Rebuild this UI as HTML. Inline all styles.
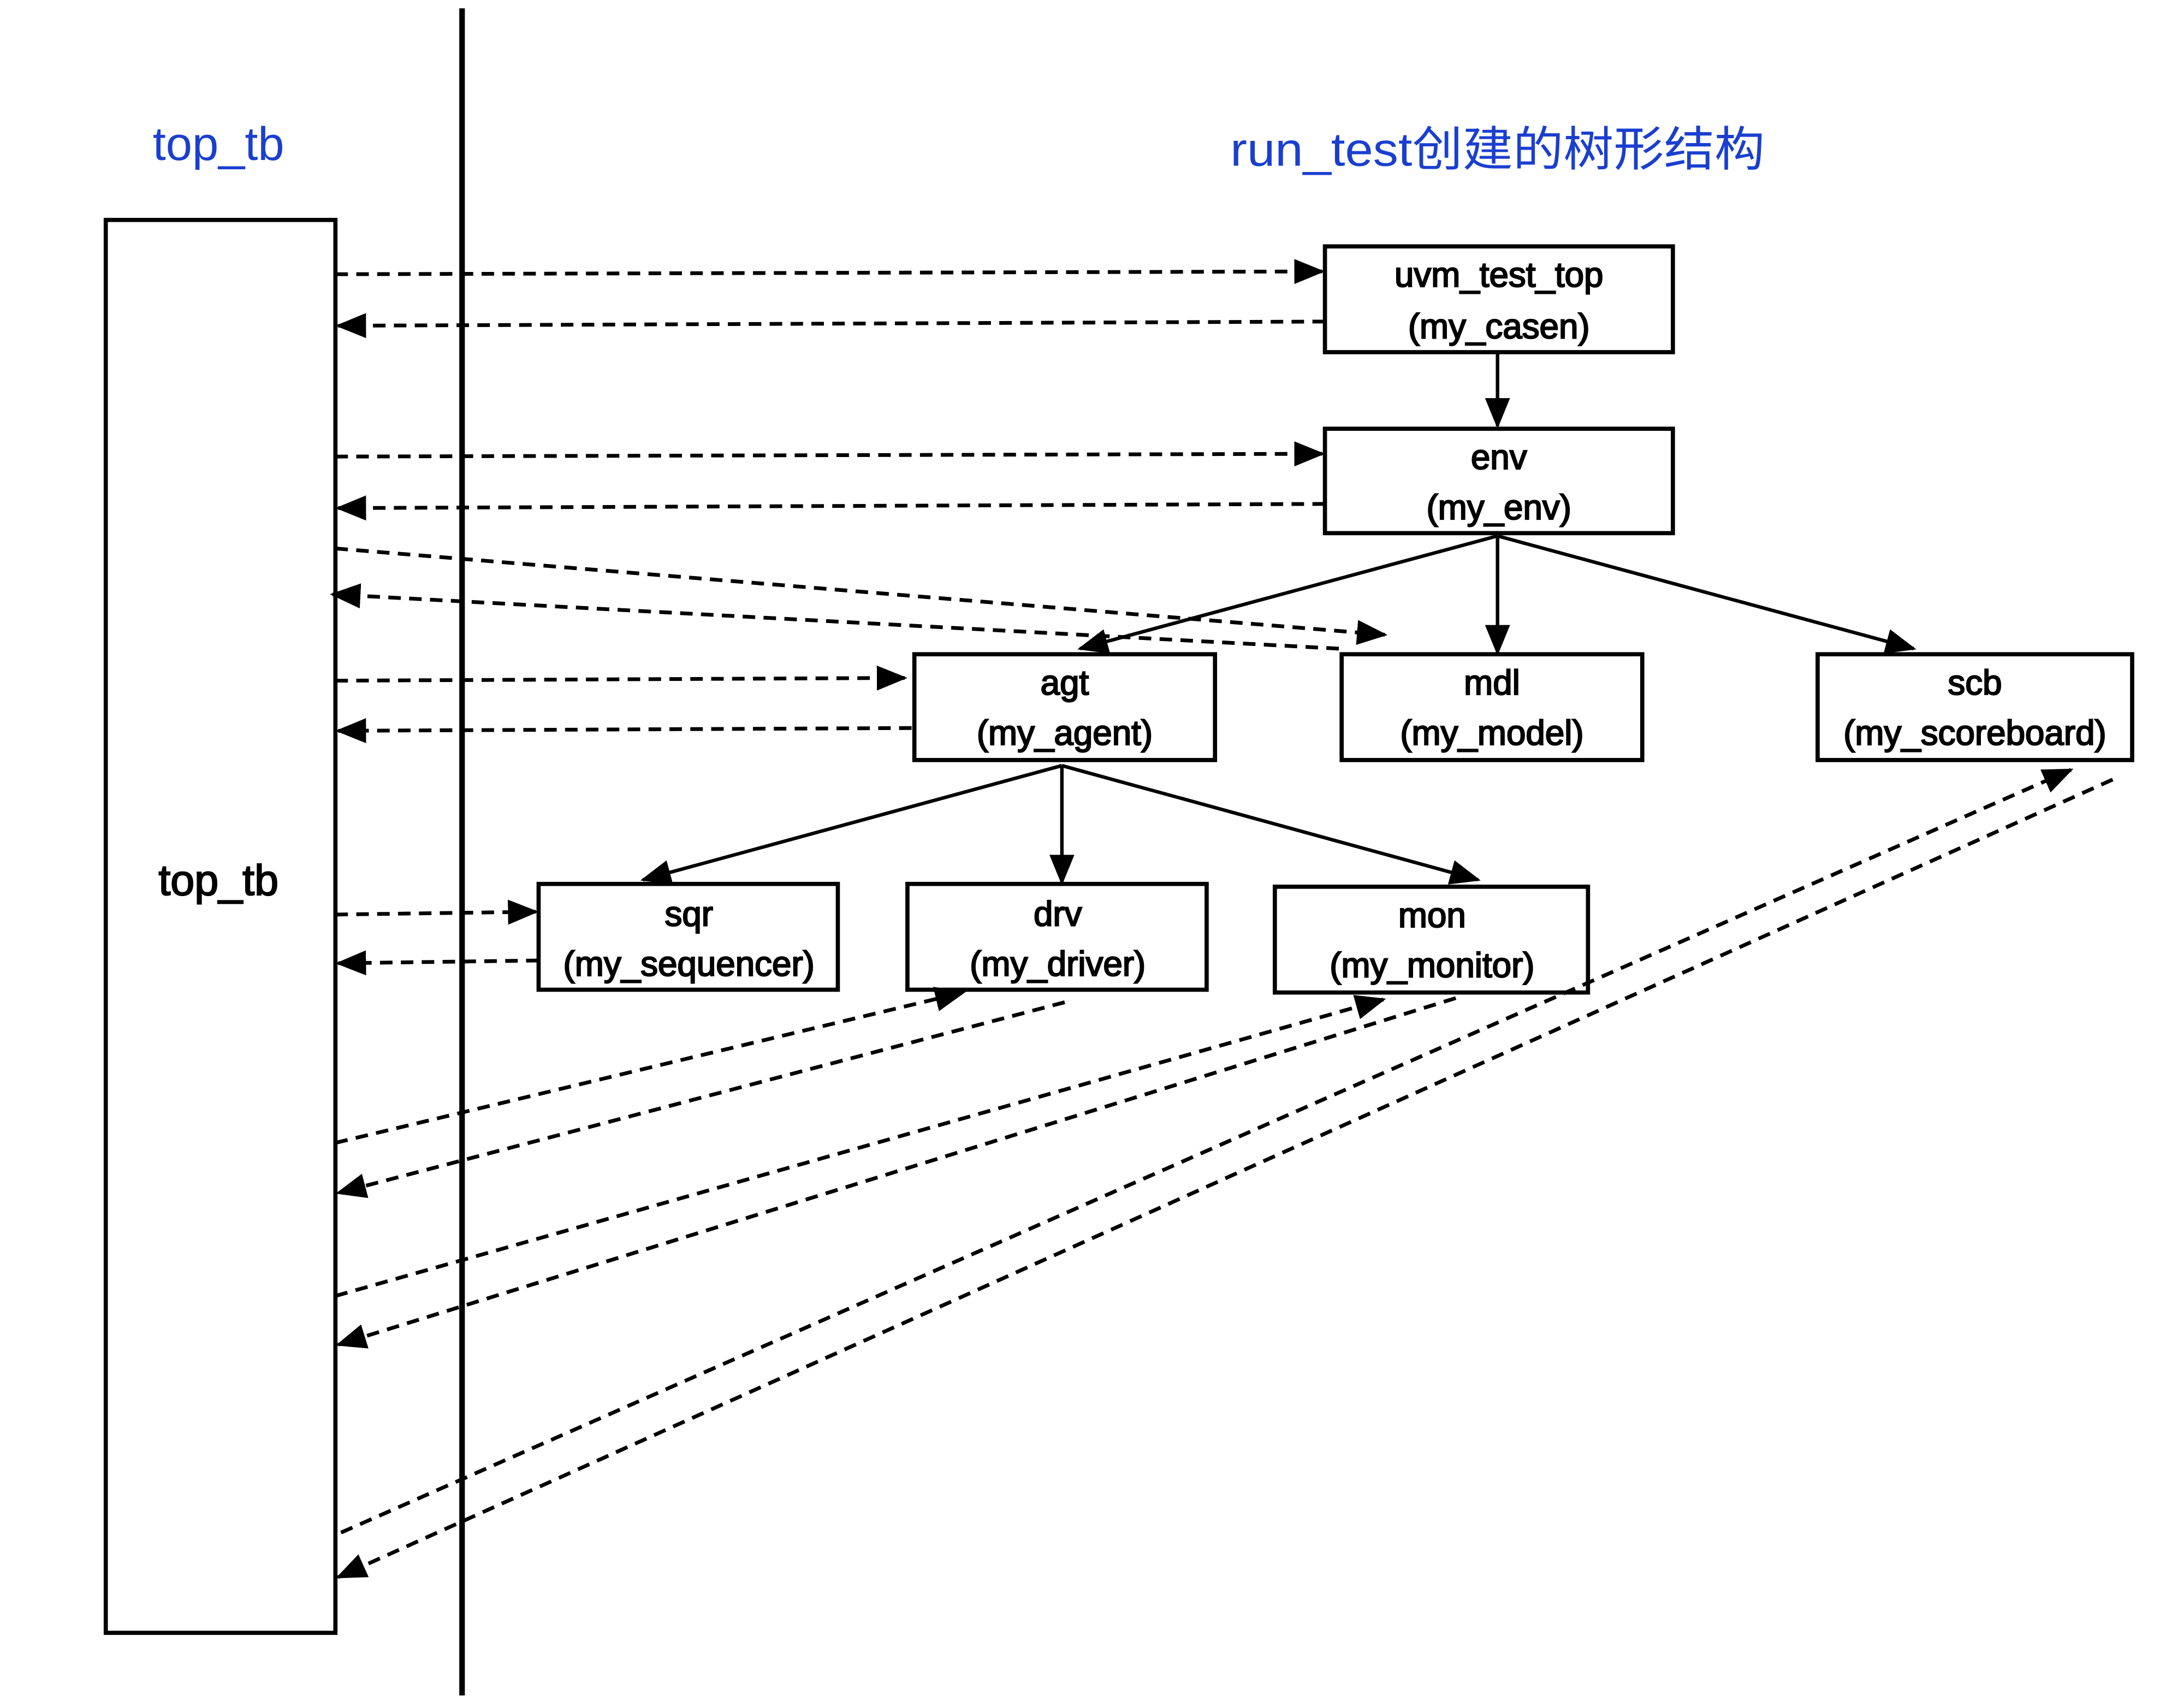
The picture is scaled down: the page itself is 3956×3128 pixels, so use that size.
<!DOCTYPE html>
<html><head><meta charset="utf-8"><style>html,body{margin:0;padding:0;background:#fff}svg{display:block}</style></head><body>
<svg width="3956" height="3128" viewBox="0 0 1552 1227" preserveAspectRatio="none" xmlns="http://www.w3.org/2000/svg">
<defs>
<marker id="a" markerUnits="userSpaceOnUse" markerWidth="22" markerHeight="18" refX="20" refY="9" orient="auto"><path d="M0,0 L22,9 L0,18 z" fill="#000"/></marker>
</defs>
<rect width="1552" height="1227" fill="#fff"/>
<g font-family="Liberation Sans, Noto Sans CJK SC, sans-serif" fill="#1a3fd0" font-size="34">
<text x="157" y="115" text-anchor="middle">top_tb</text>
<text x="884" y="119" textLength="384" lengthAdjust="spacingAndGlyphs">run_test创建的树形结构</text>
</g>
<line x1="332" y1="6" x2="332" y2="1218" stroke="#000" stroke-width="4"/>
<g fill="#fff" stroke="#000" stroke-width="3">
<rect x="76" y="158" width="165" height="1015"/>
<rect x="952" y="177" width="250" height="76"/>
<rect x="952" y="308" width="250" height="75"/>
<rect x="657" y="470" width="216" height="76"/>
<rect x="964" y="470" width="216" height="76"/>
<rect x="1306" y="470" width="226" height="76"/>
<rect x="387" y="635" width="215" height="76"/>
<rect x="652" y="635" width="215" height="76"/>
<rect x="916" y="637" width="225" height="76"/>
</g>
<g font-family="Liberation Sans, sans-serif" fill="#000" stroke="#000" stroke-width="0.9" font-size="25" text-anchor="middle">
<text x="157" y="643" font-size="31">top_tb</text>
<text x="1077" y="206">uvm_test_top</text><text x="1077" y="243">(my_casen)</text>
<text x="1077" y="337">env</text><text x="1077" y="373">(my_env)</text>
<text x="765" y="499">agt</text><text x="765" y="535">(my_agent)</text>
<text x="1072" y="499">mdl</text><text x="1072" y="535">(my_model)</text>
<text x="1419" y="499">scb</text><text x="1419" y="535">(my_scoreboard)</text>
<text x="495" y="665">sqr</text><text x="495" y="701">(my_sequencer)</text>
<text x="760" y="665">drv</text><text x="760" y="701">(my_driver)</text>
<text x="1029" y="666">mon</text><text x="1029" y="702">(my_monitor)</text>
</g>
<g stroke="#000" stroke-width="2.5" fill="none" marker-end="url(#a)">
<line x1="1076" y1="253" x2="1076" y2="306"/>
<line x1="1076" y1="385" x2="776" y2="466"/>
<line x1="1076" y1="385" x2="1076" y2="469"/>
<line x1="1076" y1="385" x2="1375" y2="466"/>
<line x1="763" y1="550" x2="462" y2="632"/>
<line x1="763" y1="550" x2="763" y2="634"/>
<line x1="763" y1="550" x2="1062" y2="632"/>
</g>
<g stroke="#000" stroke-width="2.7" fill="none" stroke-dasharray="9,6" marker-end="url(#a)">
<line x1="241" y1="197" x2="950" y2="195"/>
<line x1="952" y1="231" x2="243" y2="234"/>
<line x1="241" y1="328" x2="950" y2="326"/>
<line x1="952" y1="362" x2="243" y2="365"/>
<line x1="241" y1="394" x2="995" y2="456"/>
<line x1="962" y1="466" x2="239" y2="427"/>
<line x1="241" y1="489" x2="650" y2="487"/>
<line x1="655" y1="523" x2="243" y2="525"/>
<line x1="241" y1="657" x2="385" y2="655"/>
<line x1="387" y1="690" x2="243" y2="692"/>
<line x1="241" y1="821" x2="692" y2="713"/>
<line x1="765" y1="720" x2="243" y2="857"/>
<line x1="241" y1="931" x2="994" y2="718"/>
<line x1="1046" y1="717" x2="243" y2="966"/>
<line x1="245" y1="1101" x2="1488" y2="553"/>
<line x1="1518" y1="560" x2="243" y2="1133"/>
</g>
</svg>
</body></html>
